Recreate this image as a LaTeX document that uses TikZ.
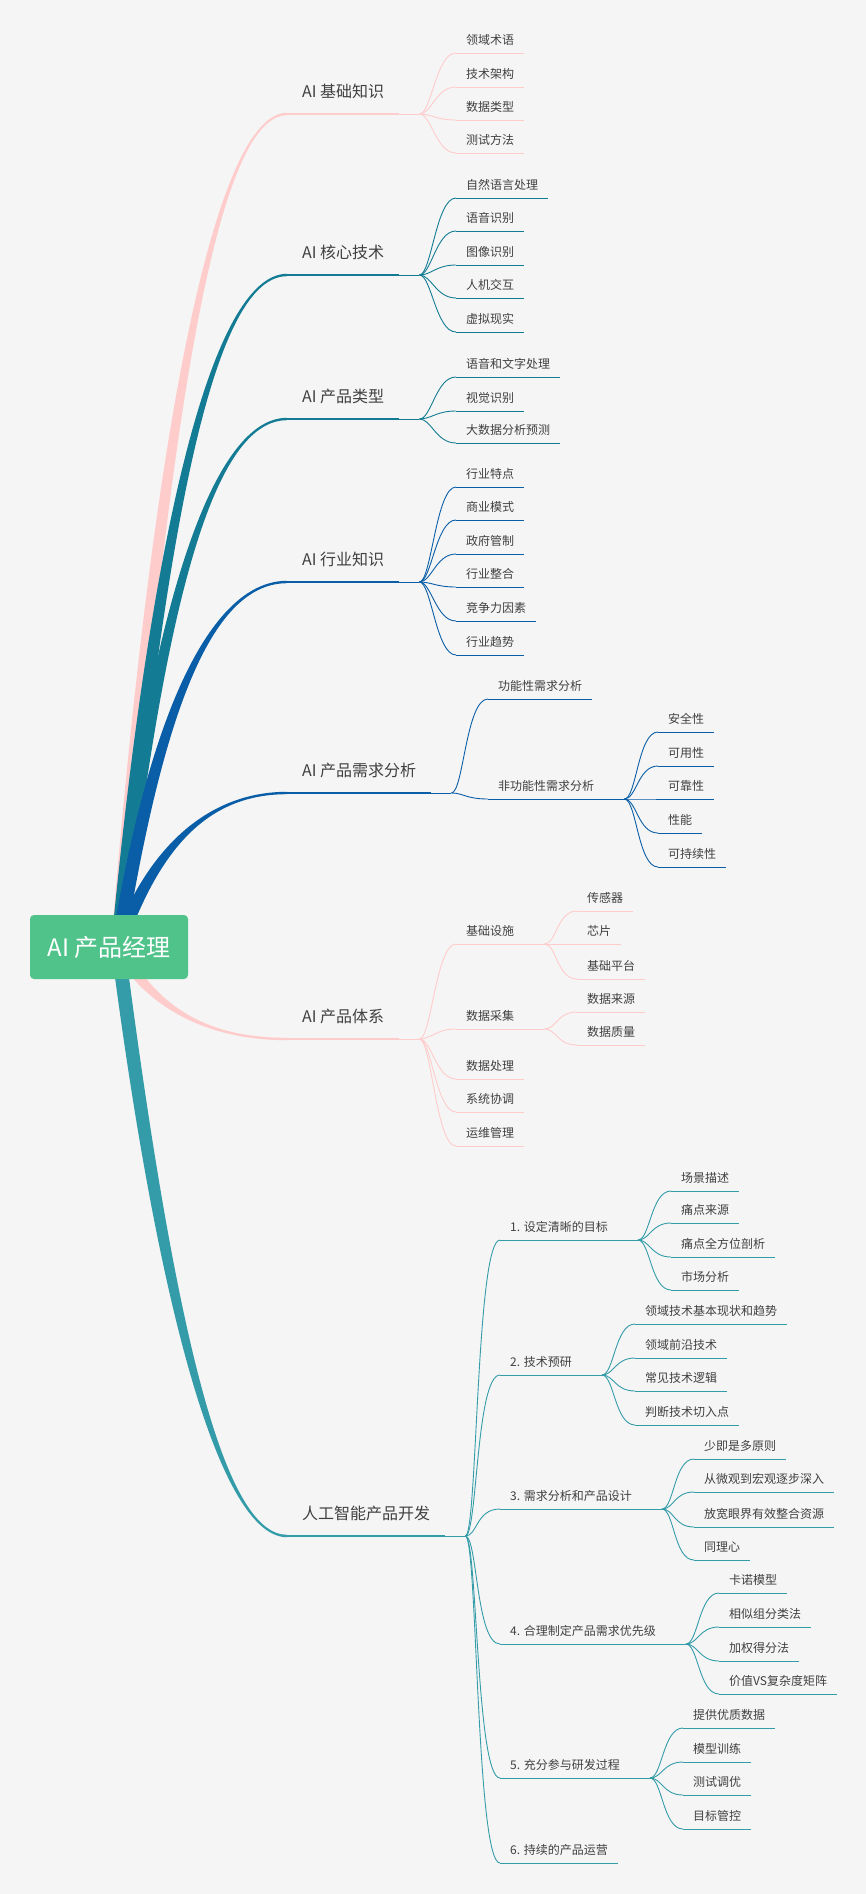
\documentclass[tikz,border=0pt]{standalone}
\usepackage{fontspec}
\setmainfont{Noto Sans CJK SC}
\usetikzlibrary{calc}
\definecolor{bg}{HTML}{F5F5F5}
\definecolor{rootg}{HTML}{50C38A}
\definecolor{pinkc}{HTML}{FFCCCC}
\definecolor{tealc}{HTML}{137C94}
\definecolor{bluec}{HTML}{0A5EA8}
\definecolor{lteal}{HTML}{349CA9}
\definecolor{txt}{HTML}{404040}
\pgfdeclarelayer{back}
\pgfdeclarelayer{bgl}
\pgfsetlayers{back,bgl,main}
% tapered main branch: colour, from, to, p, end offset sign
\newcommand\mmtaper[5]{%
 \fill[#1] let \p1=(#2), \p2=(#3) in
  (\x1-7pt,\y1) .. controls ({\x1-7pt+2/3*#4*(\x2-\x1)},{\y1+2/3*(\y2-\y1)}) and ({\x2-2/3*(1-#4)*(\x2-\x1)},{\y2+(#5)}) .. (\x2,{\y2+(#5)})
  -- (\x2,{\y2-(#5)}) .. controls ({\x2-2/3*(1-#4)*(\x2-\x1)},{\y2-(#5)}) and ({\x1+7pt+2/3*#4*(\x2-\x1)},{\y1+2/3*(\y2-\y1)}) .. (\x1+7pt,\y1) -- cycle;}
\tikzset{
 root/.style={fill=rootg, rounded corners=4pt, text=white, font=\fontsize{24pt}{28pt}\selectfont, minimum width=158pt, minimum height=64pt, inner sep=0pt},
 mainn/.style={anchor=south west, inner xsep=15pt, inner ysep=14pt, text=txt, font=\fontsize{16pt}{19pt}\selectfont, text height=14pt, text depth=2pt,
   append after command={(\tikzlastnode.south west) edge[draw=#1,line width=2pt] (\tikzlastnode.south east)}},
 subn/.style={anchor=south west, inner xsep=10pt, inner ysep=7pt, text=txt, font=\fontsize{12pt}{14pt}\selectfont, text height=10.5pt, text depth=1.5pt,
   append after command={(\tikzlastnode.south west) edge[draw=#1,line width=0.9pt] (\tikzlastnode.south east)}},
 lk/.style={draw=#1, line width=0.9pt},
}
\begin{document}
\begin{tikzpicture}[x=1pt,y=-1pt]
\begin{pgfonlayer}{back}
\fill[bg] (0,0) rectangle (866,1894);
\end{pgfonlayer}
\useasboundingbox (0,0) rectangle (866,1894);

\node[root] (root) at (109,947) {AI 产品经理};
\coordinate (rc) at ($(root.center)+(9,0)$);

% ---------- branch 1
\node[mainn=pinkc] (b1) at (287,114) {AI 基础知识};
\node[subn=pinkc] (b1a) at (456,53) {领域术语};
\node[subn=pinkc] (b1b) at (456,87) {技术架构};
\node[subn=pinkc] (b1c) at (456,120) {数据类型};
\node[subn=pinkc] (b1d) at (456,153) {测试方法};
\coordinate (f1) at ($(b1.south east)+(20,0)$);
\draw[lk=pinkc] (b1.south east) -- (f1);
\foreach \c in {b1a,b1b,b1c,b1d} \draw[lk=pinkc] (f1) .. controls +(12,0) and +(-20,0) .. (\c.south west);

% ---------- branch 2
\node[mainn=tealc] (b2) at (287,275) {AI 核心技术};
\node[subn=tealc] (b2a) at (456,198) {自然语言处理};
\node[subn=tealc] (b2b) at (456,231) {语音识别};
\node[subn=tealc] (b2c) at (456,265) {图像识别};
\node[subn=tealc] (b2d) at (456,298) {人机交互};
\node[subn=tealc] (b2e) at (456,332) {虚拟现实};
\coordinate (f2) at ($(b2.south east)+(20,0)$);
\draw[lk=tealc] (b2.south east) -- (f2);
\foreach \c in {b2a,b2b,b2c,b2d,b2e} \draw[lk=tealc] (f2) .. controls +(12,0) and +(-20,0) .. (\c.south west);

% ---------- branch 3
\node[mainn=tealc] (b3) at (287,419) {AI 产品类型};
\node[subn=tealc] (b3a) at (456,377) {语音和文字处理};
\node[subn=tealc] (b3b) at (456,411) {视觉识别};
\node[subn=tealc] (b3c) at (456,443) {大数据分析预测};
\coordinate (f3) at ($(b3.south east)+(20,0)$);
\draw[lk=tealc] (b3.south east) -- (f3);
\foreach \c in {b3a,b3b,b3c} \draw[lk=tealc] (f3) .. controls +(12,0) and +(-20,0) .. (\c.south west);

% ---------- branch 4
\node[mainn=bluec] (b4) at (287,582) {AI 行业知识};
\node[subn=bluec] (b4a) at (456,487) {行业特点};
\node[subn=bluec] (b4b) at (456,520) {商业模式};
\node[subn=bluec] (b4c) at (456,554) {政府管制};
\node[subn=bluec] (b4d) at (456,587) {行业整合};
\node[subn=bluec] (b4e) at (456,621) {竞争力因素};
\node[subn=bluec] (b4f) at (456,655) {行业趋势};
\coordinate (f4) at ($(b4.south east)+(20,0)$);
\draw[lk=bluec] (b4.south east) -- (f4);
\foreach \c in {b4a,b4b,b4c,b4d,b4e,b4f} \draw[lk=bluec] (f4) .. controls +(12,0) and +(-20,0) .. (\c.south west);

% ---------- branch 5
\node[mainn=bluec] (b5) at (287,793) {AI 产品需求分析};
\node[subn=bluec] (b5a) at (488,699) {功能性需求分析};
\node[subn=bluec] (b5b) at (488,799) {非功能性需求分析};
\coordinate (f5) at ($(b5.south east)+(20,0)$);
\draw[lk=bluec] (b5.south east) -- (f5);
\foreach \c in {b5a,b5b} \draw[lk=bluec] (f5) .. controls +(12,0) and +(-22,0) .. (\c.south west);
\node[subn=bluec] (n1) at (658,732) {安全性};
\node[subn=bluec] (n2) at (658,766) {可用性};
\node[subn=bluec] (n3) at (658,799) {可靠性};
\node[subn=bluec] (n4) at (658,833) {性能};
\node[subn=bluec] (n5) at (658,867) {可持续性};
\coordinate (f5b) at ($(b5b.south east)+(20,0)$);
\draw[lk=bluec] (b5b.south east) -- (f5b);
\foreach \c in {n1,n2,n3,n4,n5} \draw[lk=bluec] (f5b) .. controls +(12,0) and +(-20,0) .. (\c.south west);

% ---------- branch 6
\node[mainn=pinkc] (b6) at (287,1039) {AI 产品体系};
\node[subn=pinkc] (b6a) at (456,944) {基础设施};
\node[subn=pinkc] (b6b) at (456,1029) {数据采集};
\node[subn=pinkc] (b6c) at (456,1079) {数据处理};
\node[subn=pinkc] (b6d) at (456,1112) {系统协调};
\node[subn=pinkc] (b6e) at (456,1146) {运维管理};
\coordinate (f6) at ($(b6.south east)+(20,0)$);
\draw[lk=pinkc] (b6.south east) -- (f6);
\foreach \c in {b6a,b6b,b6c,b6d,b6e} \draw[lk=pinkc] (f6) .. controls +(12,0) and +(-20,0) .. (\c.south west);
\node[subn=pinkc] (j1) at (577,911) {传感器};
\node[subn=pinkc] (j2) at (577,944) {芯片};
\node[subn=pinkc] (j3) at (577,979) {基础平台};
\coordinate (f6a) at ($(b6a.south east)+(20,0)$);
\draw[lk=pinkc] (b6a.south east) -- (f6a);
\foreach \c in {j1,j2,j3} \draw[lk=pinkc] (f6a) .. controls +(12,0) and +(-20,0) .. (\c.south west);
\node[subn=pinkc] (s1) at (577,1012) {数据来源};
\node[subn=pinkc] (s2) at (577,1045) {数据质量};
\coordinate (f6b) at ($(b6b.south east)+(20,0)$);
\draw[lk=pinkc] (b6b.south east) -- (f6b);
\foreach \c in {s1,s2} \draw[lk=pinkc] (f6b) .. controls +(12,0) and +(-20,0) .. (\c.south west);

% ---------- branch 7
\node[mainn=lteal] (b7) at (287,1536) {人工智能产品开发};
\node[subn=lteal] (g1) at (500,1240) {1. 设定清晰的目标};
\node[subn=lteal] (g2) at (500,1375) {2. 技术预研};
\node[subn=lteal] (g3) at (500,1509) {3. 需求分析和产品设计};
\node[subn=lteal] (g4) at (500,1644) {4. 合理制定产品需求优先级};
\node[subn=lteal] (g5) at (500,1778) {5. 充分参与研发过程};
\node[subn=lteal] (g6) at (500,1863) {6. 持续的产品运营};
\coordinate (f7) at ($(b7.south east)+(20,0)$);
\draw[lk=lteal] (b7.south east) -- (f7);
\foreach \c in {g1,g2,g3,g4,g5,g6} \draw[lk=lteal] (f7) .. controls +(12,0) and +(-24,0) .. (\c.south west);

\node[subn=lteal] (g1a) at (671,1191) {场景描述};
\node[subn=lteal] (g1b) at (671,1223) {痛点来源};
\node[subn=lteal] (g1c) at (671,1257) {痛点全方位剖析};
\node[subn=lteal] (g1d) at (671,1290) {市场分析};
\coordinate (h1) at ($(g1.south east)+(20,0)$);
\draw[lk=lteal] (g1.south east) -- (h1);
\foreach \c in {g1a,g1b,g1c,g1d} \draw[lk=lteal] (h1) .. controls +(12,0) and +(-20,0) .. (\c.south west);

\node[subn=lteal] (g2a) at (635,1324) {领域技术基本现状和趋势};
\node[subn=lteal] (g2b) at (635,1358) {领域前沿技术};
\node[subn=lteal] (g2c) at (635,1391) {常见技术逻辑};
\node[subn=lteal] (g2d) at (635,1425) {判断技术切入点};
\coordinate (h2) at ($(g2.south east)+(20,0)$);
\draw[lk=lteal] (g2.south east) -- (h2);
\foreach \c in {g2a,g2b,g2c,g2d} \draw[lk=lteal] (h2) .. controls +(12,0) and +(-20,0) .. (\c.south west);

\node[subn=lteal] (g3a) at (694,1459) {少即是多原则};
\node[subn=lteal] (g3b) at (694,1492) {从微观到宏观逐步深入};
\node[subn=lteal] (g3c) at (694,1527) {放宽眼界有效整合资源};
\node[subn=lteal] (g3d) at (694,1560) {同理心};
\coordinate (h3) at ($(g3.south east)+(20,0)$);
\draw[lk=lteal] (g3.south east) -- (h3);
\foreach \c in {g3a,g3b,g3c,g3d} \draw[lk=lteal] (h3) .. controls +(12,0) and +(-20,0) .. (\c.south west);

\node[subn=lteal] (g4a) at (719,1593) {卡诺模型};
\node[subn=lteal] (g4b) at (719,1627) {相似组分类法};
\node[subn=lteal] (g4c) at (719,1661) {加权得分法};
\node[subn=lteal] (g4d) at (719,1694) {价值VS复杂度矩阵};
\coordinate (h4) at ($(g4.south east)+(20,0)$);
\draw[lk=lteal] (g4.south east) -- (h4);
\foreach \c in {g4a,g4b,g4c,g4d} \draw[lk=lteal] (h4) .. controls +(12,0) and +(-20,0) .. (\c.south west);

\node[subn=lteal] (g5a) at (683,1728) {提供优质数据};
\node[subn=lteal] (g5b) at (683,1762) {模型训练};
\node[subn=lteal] (g5c) at (683,1795) {测试调优};
\node[subn=lteal] (g5d) at (683,1829) {目标管控};
\coordinate (h5) at ($(g5.south east)+(20,0)$);
\draw[lk=lteal] (g5.south east) -- (h5);
\foreach \c in {g5a,g5b,g5c,g5d} \draw[lk=lteal] (h5) .. controls +(12,0) and +(-20,0) .. (\c.south west);

% ---------- tapered main branches (behind the root)
\begin{pgfonlayer}{bgl}
\mmtaper{pinkc}{rc}{b1.south west}{0.40}{1.2pt}
\mmtaper{tealc}{rc}{b2.south west}{0.38}{1.2pt}
\mmtaper{tealc}{rc}{b3.south west}{0.36}{1.2pt}
\mmtaper{bluec}{rc}{b4.south west}{0.35}{1.2pt}
\mmtaper{bluec}{rc}{b5.south west}{0.32}{1.2pt}
\mmtaper{pinkc}{rc}{b6.south west}{0.30}{-1.2pt}
\mmtaper{lteal}{rc}{b7.south west}{0.45}{-1.2pt}
\end{pgfonlayer}
\end{tikzpicture}
\end{document}
